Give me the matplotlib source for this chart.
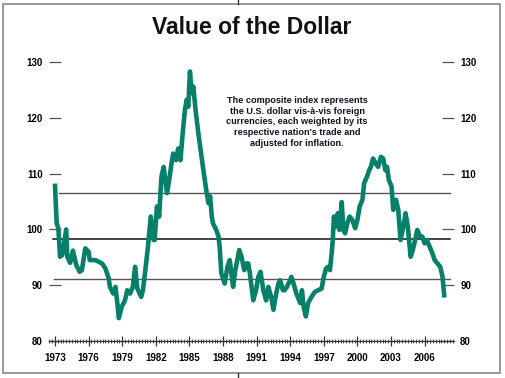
import matplotlib
matplotlib.use("Agg")
import matplotlib.pyplot as plt
from matplotlib.ticker import MultipleLocator
from matplotlib.lines import Line2D
from matplotlib.patches import Rectangle

plt.rcParams['font.family'] = ['Liberation Sans', 'DejaVu Sans']

# ---- data ----
years = [1973.0, 1973.15, 1973.3, 1973.45, 1973.65, 1974.0, 1974.1, 1974.35, 1974.6, 1974.9,
         1975.2, 1975.4, 1975.7, 1976.0, 1976.1, 1976.6, 1976.9, 1977.2, 1977.5, 1977.8,
         1977.9, 1978.2, 1978.4, 1978.6, 1978.7, 1978.95, 1979.25, 1979.45, 1979.7, 1979.95,
         1980.15, 1980.35, 1980.7, 1980.85, 1981.1, 1981.3, 1981.55, 1981.8, 1981.9, 1982.1,
         1982.3, 1982.5, 1982.7, 1983.0, 1983.2, 1983.4, 1983.55, 1983.8, 1984.0, 1984.2,
         1984.4, 1984.6, 1984.75, 1984.9, 1985.05, 1985.2, 1985.35, 1985.55, 1985.8, 1986.0,
         1986.25, 1986.5, 1986.7, 1986.85, 1987.0, 1987.1, 1987.4, 1987.6, 1987.7, 1987.85,
         1988.15, 1988.4, 1988.6, 1988.9, 1989.1, 1989.45, 1989.65, 1989.9, 1990.1, 1990.25,
         1990.4, 1990.7, 1990.95, 1991.15, 1991.35, 1991.6, 1991.85, 1992.05, 1992.3, 1992.5,
         1992.75, 1992.95, 1993.1, 1993.35, 1993.5, 1993.7, 1994.0, 1994.1, 1994.3, 1994.55,
         1994.9, 1995.05, 1995.2, 1995.4, 1995.6, 1995.9, 1996.2, 1996.5, 1996.8, 1997.0,
         1997.2, 1997.4, 1997.55, 1997.7, 1997.8, 1997.9, 1998.1, 1998.25, 1998.4, 1998.6,
         1998.75, 1998.9, 1999.1, 1999.3, 1999.55, 1999.8, 2000.0, 2000.2, 2000.45, 2000.6,
         2000.85, 2001.05, 2001.2, 2001.4, 2001.65, 2001.85, 2002.1, 2002.3, 2002.5, 2002.65,
         2002.8, 2003.05, 2003.2, 2003.45, 2003.65, 2003.85, 2004.1, 2004.3, 2004.5, 2004.75,
         2004.95, 2005.15, 2005.35, 2005.6, 2005.8, 2006.0, 2006.2, 2006.45, 2006.7, 2006.9,
         2007.15, 2007.4, 2007.6, 2007.75]
index_values = [107.8, 101.1, 100.2, 95.1, 95.4, 100.0, 95.1, 94.0, 96.2, 93.6,
                92.4, 92.7, 96.6, 96.0, 94.5, 94.5, 94.2, 93.9, 93.0, 91.2,
                89.7, 88.5, 89.7, 86.1, 84.1, 86.1, 87.3, 89.1, 88.5, 89.7,
                93.3, 89.4, 87.9, 89.1, 93.3, 96.9, 102.3, 98.1, 98.1, 104.1,
                102.3, 109.4, 111.2, 106.5, 108.9, 111.8, 113.6, 112.4, 114.5, 112.4,
                117.2, 121.4, 123.2, 122.0, 128.3, 124.4, 125.6, 121.4, 117.2, 114.2,
                110.6, 107.1, 104.7, 105.9, 102.3, 101.1, 99.9, 98.7, 96.9, 92.1,
                90.3, 93.3, 94.5, 89.7, 92.7, 96.3, 95.1, 92.7, 93.9, 93.9,
                92.1, 87.3, 89.1, 91.5, 92.4, 89.1, 87.3, 89.7, 87.9, 85.6,
                88.5, 90.3, 90.9, 89.1, 89.1, 89.7, 90.9, 91.5, 90.3, 88.5,
                86.8, 89.1, 86.1, 84.4, 86.8, 87.9, 88.8, 89.1, 89.4, 91.5,
                93.0, 93.3, 92.7, 95.7, 98.1, 102.3, 100.5, 102.9, 99.9, 104.9,
                99.9, 99.3, 101.1, 102.3, 101.7, 100.2, 101.7, 104.1, 105.3, 108.3,
                109.4, 110.6, 111.2, 112.7, 111.8, 111.2, 113.0, 112.7, 110.6, 111.2,
                108.9, 107.7, 103.5, 105.3, 103.5, 98.1, 100.5, 102.9, 100.5, 95.1,
                96.3, 98.1, 99.9, 98.7, 98.7, 97.5, 98.1, 96.9, 95.7, 94.5,
                93.9, 93.3, 91.5, 88.2]
ref_levels = [106.5, 98.3, 91.1]
y_ticks = [80, 90, 100, 110, 120, 130]
x_ticks = [1973, 1976, 1979, 1982, 1985, 1988, 1991, 1994, 1997, 2000, 2003, 2006]
title = "Value of the Dollar"
note = ("The composite index represents\nthe U.S. dollar vis-à-vis foreign\n"
        "currencies, each weighted by its\nrespective nation's trade and\nadjusted for inflation.")

W, H = 505, 378
fig = plt.figure(figsize=(W / 100, H / 100), dpi=100)
fig.patch.set_facecolor('white')

# axes placed in pixels: x 49..454, y 62 (130) .. 341 (80)
ax = fig.add_axes([49 / W, (H - 341) / H, (454 - 49) / W, (341 - 62) / H])
px_per_year = 11.2
x0 = 1973 - 6 / px_per_year
x1 = 1973 + (454 - 55) / px_per_year
ax.set_xlim(x0, x1)
ax.set_ylim(80, 130)
ax.set_facecolor('none')

for s in ['top', 'left', 'right']:
    ax.spines[s].set_visible(False)
ax.spines['bottom'].set_color('#333333')
ax.spines['bottom'].set_linewidth(1.0)

# reference lines
line_styles = [('#555555', 1.0, 1973 + 4 / px_per_year),
               ('#111111', 1.1, 1973 - 2 / px_per_year),
               ('#555555', 1.0, 1973 - 1 / px_per_year)]
xr = 1973 + (450 - 55) / px_per_year
for lvl, (c, lw, xs) in zip(ref_levels, line_styles):
    ax.plot([xs, xr], [lvl, lvl], color=c, lw=lw, zorder=1)

ax.plot(years, index_values, color='#07806a', lw=3.3, zorder=3,
        solid_joinstyle='round', clip_on=False)

# y ticks on both sides
ax.set_yticks(y_ticks)
ax.tick_params(axis='y', which='major', direction='in', length=8.6, width=0.9,
               color='#555555', left=True, right=True, labelleft=True, labelright=True,
               labelsize=7, pad=4.5)

ax.set_xticks(x_ticks)
ax.set_xticklabels([str(v) for v in x_ticks], fontweight='bold', fontsize=7)
ax.xaxis.set_minor_locator(MultipleLocator(0.25))
ax.tick_params(axis='x', which='major', direction='inout', length=7.5, width=0.9,
               color='#333333', pad=5)
ax.tick_params(axis='x', which='minor', direction='inout', length=2.5, width=0.7,
               color='#555555')
for lab in ax.get_yticklabels() + ax.get_xticklabels():
    lab.set_fontweight('bold')

# title and note
fig.text(252 / W, 1 - 27 / H, title, ha='center', va='center', fontsize=16.5,
         fontweight='bold', color='#111111')
fig.text(297 / W, 1 - 122 / H, note, ha='center', va='center', fontsize=6.6,
         fontweight='bold', color='#111122', linespacing=1.25)

# frame
fig.patches.append(Rectangle((3 / W, 1 - 373 / H), (500 - 3) / W, (373 - 4) / H,
                             transform=fig.transFigure, fill=False,
                             edgecolor='#888888', lw=1.2))
fig.lines.append(Line2D([238 / W, 238 / W], [1 - 0 / H, 1 - 4 / H], transform=fig.transFigure,
                        color='#333333', lw=1.0))
fig.lines.append(Line2D([238 / W, 238 / W], [1 - 373 / H, 0], transform=fig.transFigure,
                        color='#333333', lw=1.0))

fig.savefig('out.png', dpi=100)
